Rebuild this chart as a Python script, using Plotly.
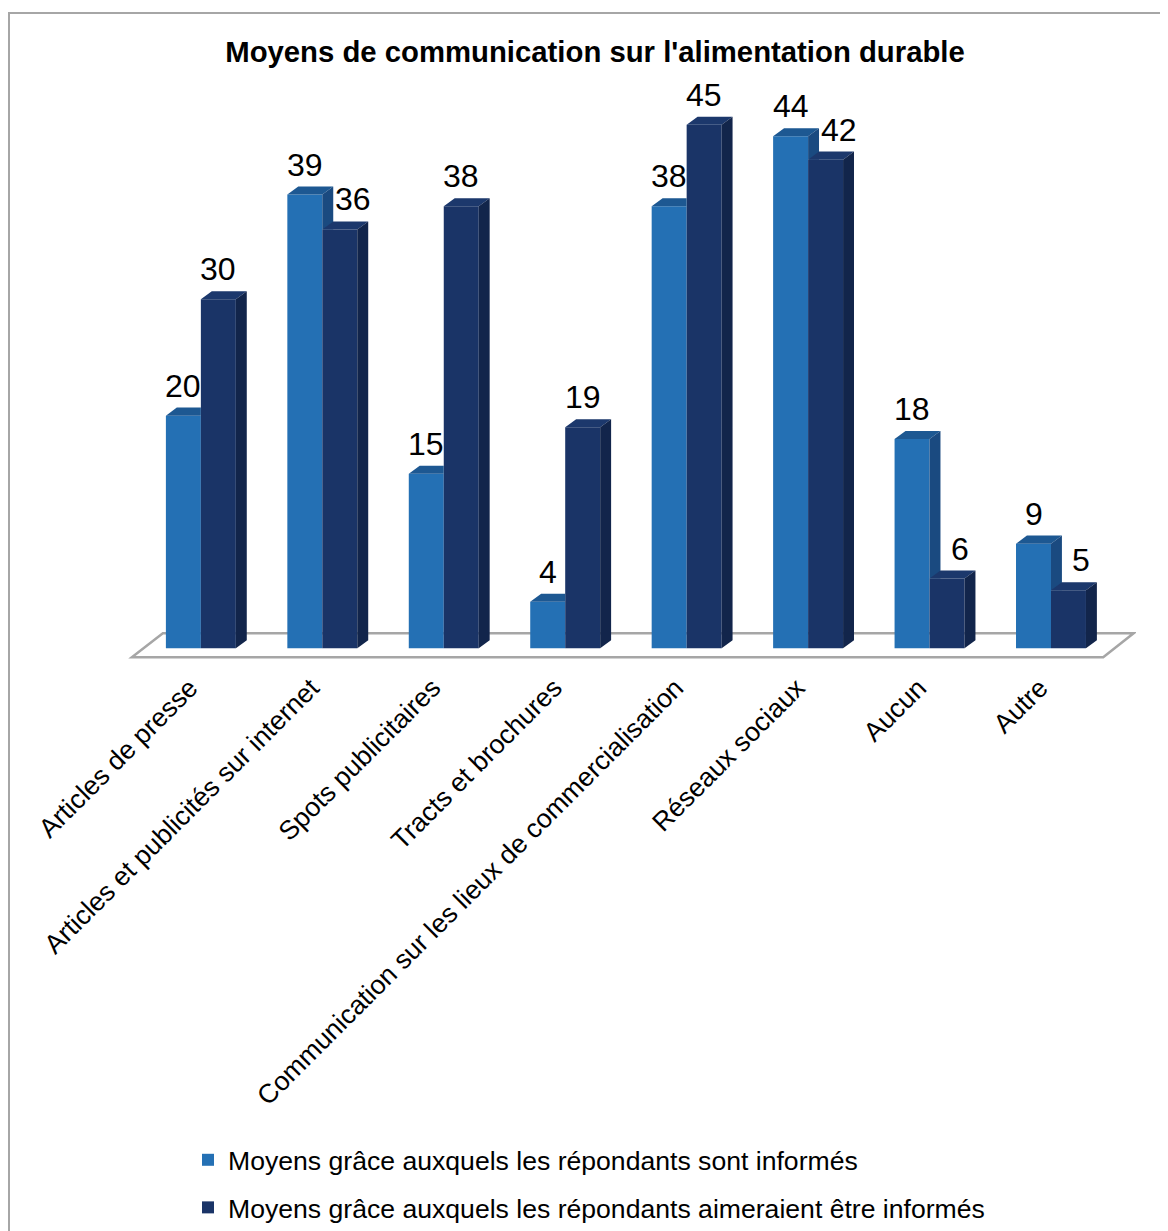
import plotly.graph_objects as go

# ---------------- data ----------------
categories = [
    "Articles de presse",
    "Articles et publicités sur internet",
    "Spots publicitaires",
    "Tracts et brochures",
    "Communication sur les lieux de commercialisation",
    "Réseaux sociaux",
    "Aucun",
    "Autre",
]
informes = [20, 39, 15, 4, 38, 44, 18, 9]
souhaites = [30, 36, 38, 19, 45, 42, 6, 5]
series_names = [
    "Moyens grâce auxquels les répondants sont informés",
    "Moyens grâce auxquels les répondants aimeraient être informés",
]
title_text = "Moyens de communication sur l'alimentation durable"

# ---------------- geometry / style ----------------
OFF = 8                      # page body margin in the browser
W, H = 1160, 1223
ML, MT = 120, 76
PLOT_W, PLOT_H = 1008, 576
MR = W - ML - PLOT_W
MB = H - MT - PLOT_H
XR = [-0.6, 7.7]
YR = [-1, 48.5]
BW = 0.288   # width of one bar (category units)
DX = 0.09    # 3D depth, x
DY = 0.69    # 3D depth, y
FONT = "Liberation Sans, Arial, sans-serif"

C_LIGHT = "#2470b4"
C_LIGHT_TOP = "#1d5892"
C_LIGHT_SIDE = "#1a4a80"
C_DARK = "#1a3467"
C_DARK_TOP = "#1c386c"
C_DARK_SIDE = "#12254b"

pos = list(range(len(categories)))
x_light = [p - BW / 2 for p in pos]
x_dark = [p + BW / 2 for p in pos]

fig = go.Figure()

# front faces (bars)
fig.add_trace(go.Bar(x=x_light, y=informes, width=BW, name=series_names[0],
                     marker=dict(color=C_LIGHT, line=dict(width=0)),
                     legendgroup="a", hoverinfo="skip"))
fig.add_trace(go.Bar(x=x_dark, y=souhaites, width=BW, name=series_names[1],
                     marker=dict(color=C_DARK, line=dict(width=0)),
                     legendgroup="b", hoverinfo="skip"))


def poly_trace(polys, color):
    xs, ys = [], []
    for poly in polys:
        for (a, b) in poly:
            xs.append(a)
            ys.append(b)
        xs.append(poly[0][0]); ys.append(poly[0][1])
        xs.append(None); ys.append(None)
    return go.Scatter(x=xs, y=ys, mode="lines", fill="toself", fillcolor=color,
                      line=dict(width=0, color=color), showlegend=False,
                      hoverinfo="skip")


light_tops, light_sides, dark_tops, dark_sides = [], [], [], []
for p, v1, v2 in zip(pos, informes, souhaites):
    x0, x1, x2 = p - BW, p, p + BW
    if v2 >= v1 + DY:
        light_tops.append([(x0, v1), (x1, v1), (x1, v1 + DY), (x0 + DX, v1 + DY)])
    else:
        light_tops.append([(x0, v1), (x1, v1), (x1 + DX, v1 + DY), (x0 + DX, v1 + DY)])
    if v1 > v2:
        light_sides.append([(x1, v2), (x1, v1), (x1 + DX, v1 + DY), (x1 + DX, v2)])
    dark_tops.append([(x1, v2), (x2, v2), (x2 + DX, v2 + DY), (x1 + DX, v2 + DY)])
    dark_sides.append([(x2, 0), (x2, v2), (x2 + DX, v2 + DY), (x2 + DX, DY)])

fig.add_trace(poly_trace(light_tops, C_LIGHT_TOP))
fig.add_trace(poly_trace(light_sides, C_LIGHT_SIDE))
fig.add_trace(poly_trace(dark_tops, C_DARK_TOP))
fig.add_trace(poly_trace(dark_sides, C_DARK_SIDE))

# data labels
annotations = []
for xv, v in zip(x_light, informes):
    annotations.append(dict(x=xv, y=v, xref="x", yref="y", text=str(v),
                            showarrow=False, yanchor="bottom", yshift=10,
                            font=dict(family=FONT, size=32, color="black")))
for xv, v, other in zip(x_dark, souhaites, informes):
    annotations.append(dict(x=xv, y=v, xref="x", yref="y", text=str(v),
                            showarrow=False, yanchor="bottom", yshift=10,
                            xshift=13 if other > v else 0,
                            font=dict(family=FONT, size=32, color="black")))


def px_to_paper_x(px):
    return (px - OFF - ML) / PLOT_W


def px_to_paper_y(py):
    return (MT + PLOT_H - (py - OFF)) / PLOT_H


shapes = [
    # floor
    dict(type="path", xref="x", yref="y", layer="below",
         path="M -0.568,-0.77 L 7.43,-0.77 L 7.68,1.29 L -0.313,1.29 Z",
         line=dict(color="#a6a6a6", width=2.5), fillcolor="white"),
    # chart border
    dict(type="rect", xref="paper", yref="paper", layer="below",
         x0=px_to_paper_x(9), x1=px_to_paper_x(1190),
         y0=px_to_paper_y(1260), y1=px_to_paper_y(13),
         line=dict(color="#a6a6a6", width=2), fillcolor="rgba(0,0,0,0)"),
]

fig.update_layout(
    width=W, height=H,
    margin=dict(l=ML, r=MR, t=MT, b=MB, autoexpand=False),
    paper_bgcolor="white", plot_bgcolor="white",
    barmode="overlay",
    font=dict(family=FONT, color="black"),
    title=dict(text="<b>" + title_text + "</b>", xref="container", yref="container",
               x=(595 - OFF) / W, xanchor="center", y=1 - (52 - OFF) / H,
               yanchor="middle",
               font=dict(family=FONT, size=29.3, color="black")),
    xaxis=dict(range=XR, tickvals=pos, ticktext=categories, tickangle=-45,
               tickfont=dict(family=FONT, size=26.6, color="black"),
               ticklabelshift=-11, ticklabelstandoff=6,
               showgrid=False, zeroline=False, showline=False, ticks="",
               automargin=False, fixedrange=True),
    yaxis=dict(range=YR, visible=False, showgrid=False, zeroline=False,
               fixedrange=True),
    legend=dict(orientation="v", x=px_to_paper_x(180 + OFF), xanchor="left",
                y=px_to_paper_y(1128 + OFF), yanchor="top",
                font=dict(family=FONT, size=26.6, color="black"),
                traceorder="grouped", tracegroupgap=10,
                bgcolor="rgba(0,0,0,0)"),
    annotations=annotations,
    shapes=shapes,
    showlegend=True,
)

fig.write_html("out.html")
